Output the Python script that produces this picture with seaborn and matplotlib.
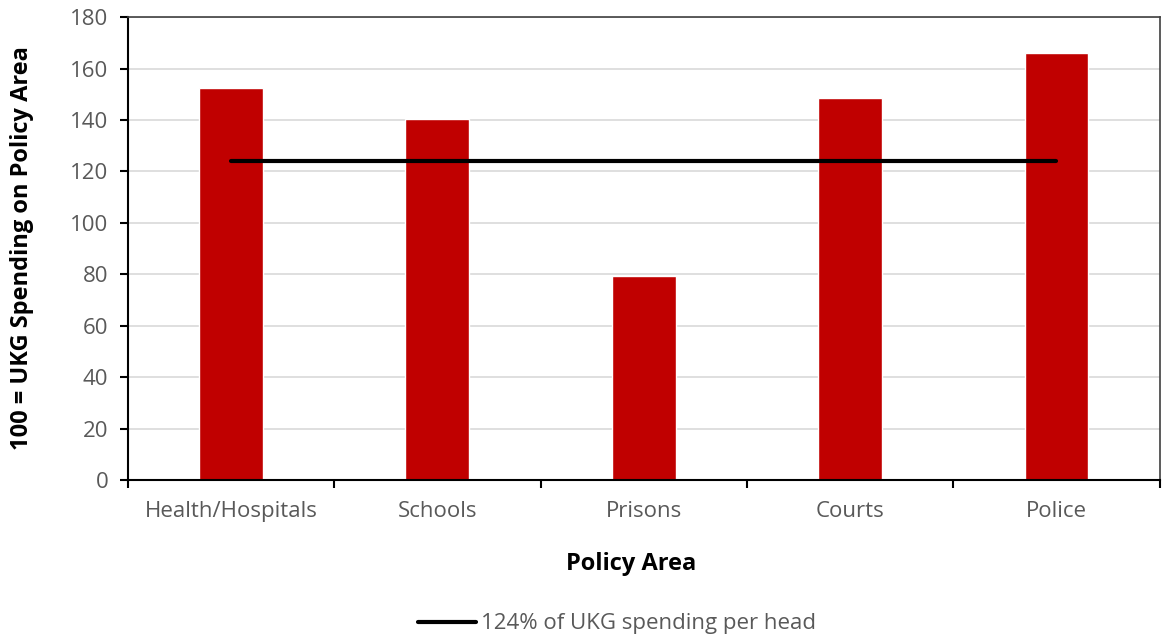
import matplotlib
matplotlib.use("Agg")
import matplotlib.pyplot as plt
import seaborn as sns
import pandas as pd
from matplotlib.ticker import FixedLocator, NullFormatter

# datos
categorias = ["Health/Hospitals", "Schools", "Prisons", "Courts", "Police"]
valores = [152.4, 140.4, 79.3, 148.4, 165.9]
referencia = [124, 124, 124, 124, 124]
etiqueta_ref = "124% of UKG spending per head"

sns.set_theme(style="white")
plt.rcParams["font.family"] = ["Open Sans", "DejaVu Sans"]

df = pd.DataFrame({"area": categorias, "valor": valores, "ref": referencia})

fig = plt.figure(figsize=(11.62, 6.34), dpi=100)
ax = fig.add_axes([0.110, 0.243, 0.888, 0.730])

sns.barplot(data=df, x="area", y="valor", color="#C00000", saturation=1,
            width=0.31, ax=ax, zorder=2)
sns.lineplot(data=df, x="area", y="ref", color="black", linewidth=3,
             ax=ax, label=etiqueta_ref, zorder=3, solid_capstyle="round")

ax.set_xlim(-0.5, len(categorias) - 0.5)
ax.set_ylim(0, 180)
ax.set_yticks(range(0, 181, 20))
ax.yaxis.grid(True, color="#D9D9D9", linewidth=1.2, zorder=0)
ax.set_axisbelow(True)

# ticks del eje x en los limites de las categorias, etiquetas en el centro
ax.xaxis.set_major_locator(FixedLocator([i - 0.5 for i in range(len(categorias) + 1)]))
ax.xaxis.set_major_formatter(NullFormatter())
ax.xaxis.set_minor_locator(FixedLocator(range(len(categorias))))
ax.set_xticklabels(categorias, minor=True)
ax.tick_params(axis="x", which="major", length=6, width=1.5, color="black", direction="out", bottom=True)
ax.tick_params(axis="x", which="minor", length=0, pad=15, labelsize=16, labelcolor="#595959")
ax.tick_params(axis="y", length=6, width=1.5, color="black", direction="out", left=True,
               labelsize=16, labelcolor="#595959", pad=8)

for lado in ["left", "bottom"]:
    ax.spines[lado].set_color("black")
    ax.spines[lado].set_linewidth(1.5)
for lado in ["top", "right"]:
    ax.spines[lado].set_color("#404040")
    ax.spines[lado].set_linewidth(1.2)

ax.set_xlabel("Policy Area", fontsize=17, fontweight="bold", color="black")
ax.xaxis.set_label_coords(0.488, -0.155, transform=ax.transAxes)
ax.set_ylabel("100 = UKG Spending on Policy Area", fontsize=17, fontweight="bold", color="black", labelpad=26)

ax.legend(loc="upper center", bbox_to_anchor=(0.474, -0.245), frameon=False, fontsize=16,
          handlelength=2.6, handletextpad=0.2, labelcolor="#595959")

fig.savefig("out.png", dpi=100)
